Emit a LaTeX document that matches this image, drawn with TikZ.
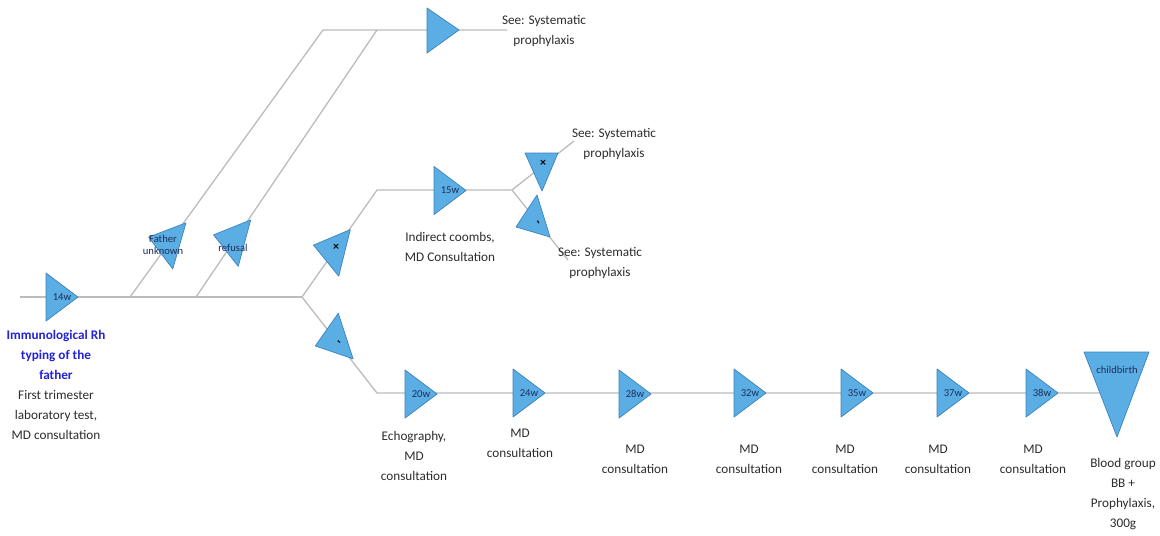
\documentclass[tikz,border=0pt]{standalone}
\usepackage{fontspec}
\setmainfont{Carlito}
\definecolor{tfill}{RGB}{91,174,228}
\definecolor{tedge}{RGB}{60,130,190}
\definecolor{lgray}{RGB}{188,188,188}
\definecolor{txt}{RGB}{45,45,45}
\definecolor{navy}{RGB}{30,45,90}
\definecolor{rhblue}{RGB}{35,35,215}
\tikzset{
 conn/.style={draw=lgray, line width=0.65pt},
 tri/.style={fill=tfill, draw=tedge, line width=0.35pt, line join=round},
 tlab/.style={font=\fontsize{5.3}{6.2}\selectfont, text=navy, inner sep=0, align=center},
 lab/.style={font=\fontsize{6.6}{10}\selectfont, text=txt, align=center, inner sep=0},
 signmark/.style={font=\fontsize{6}{6}\selectfont\bfseries, text=black, inner sep=0},
}
\newcommand{\mytri}[5]{%
 \begin{scope}[shift={(#2,#3)}, rotate=#4]
 \path[tri] (-16,-24) -- (16,0) -- (-16,24) -- cycle;
 \end{scope}
 \node[tlab] (#1) at (#2,#3) {#5};
}
\begin{document}
\begin{tikzpicture}[x=0.5pt,y=-0.5pt]
\fill[white] (0,0) rectangle (1160,535);
\useasboundingbox (0,0) rectangle (1160,535);
% connector points
\coordinate (s) at (20,297);
\coordinate (b1) at (130,297);
\coordinate (b2) at (196,297);
\coordinate (b3) at (302,297);
\coordinate (c1) at (323,30);
\coordinate (c2) at (377,30);
\coordinate (e1) at (507,30);
\coordinate (u1) at (377,190);
\coordinate (j15) at (512,190);
\coordinate (up) at (574,141);
\coordinate (dn) at (568,260);
\coordinate (l1) at (377,393);
\coordinate (lend) at (1100,393);
% connectors
\draw[conn] (s) -- (b3);
\draw[conn] (b1) -- (c1) -- (e1);
\draw[conn] (b2) -- (c2);
\draw[conn] (b3) -- (u1) -- (j15);
\draw[conn] (b3) -- (l1) -- (lend);
\draw[conn] (j15) -- (up);
\draw[conn] (j15) -- (dn);
% triangles
\mytri{t14}{62}{297}{0}{14w}
\path[tri] (427,8) -- (459,30) -- (427,53) -- cycle;
\node[tlab] (ttop) at (441,30) {};
\mytri{t15}{450}{190.5}{0}{15w}
\mytri{tfu}{164}{241.5}{164}{}
\node[tlab] (fu) at (163,245) {Father\\unknown};
\mytri{tref}{229}{239}{165}{}
\node[tlab] (ref) at (233,248) {refusal};
\mytri{tpos}{329}{249}{166}{}
\node[signmark] (pos) at (336,247) {×};
\mytri{tneg}{330.5}{341}{198}{}
\node[signmark, rotate=-40] (neg) at (338,343) {-};
\path[tri] (525,153) -- (558,153) -- (542,191) -- cycle;
\node[signmark] (pos2) at (543,163) {×};
\path[tri] (537,195) -- (516,227) -- (550,237) -- cycle;
\node[signmark, rotate=-60] (neg2) at (537,223) {-};
\mytri{t20}{421}{394}{0}{20w}
\mytri{t24}{529}{393}{0}{24w}
\mytri{t28}{635}{394}{0}{28w}
\mytri{t32}{750}{393}{0}{32w}
\mytri{t35}{857}{393}{0}{35w}
\mytri{t37}{953}{393}{0}{37w}
\mytri{t38}{1042}{393}{0}{38w}
\path[tri] (1084,352) -- (1149,352) -- (1117,437) -- cycle;
\node[tlab] (birth) at (1117,370) {childbirth};
% labels
\node[lab, text=rhblue, font=\fontsize{6.6}{10}\selectfont\bfseries] (rh) at (56,355) {Immunological Rh\\typing of the\\father};
\node[lab] (first) at (56,415) {First trimester\\laboratory test,\\MD consultation};
\node[lab] (see1) at (544,31) {See: Systematic\\prophylaxis};
\node[lab] (see2) at (614,144) {See: Systematic\\prophylaxis};
\node[lab] (see3) at (600,263) {See: Systematic\\prophylaxis};
\node[lab] (coombs) at (450,247) {Indirect coombs,\\MD Consultation};
\node[lab] (l20) at (414,456) {Echography,\\MD\\consultation};
\node[lab] (l24) at (520,443) {MD\\consultation};
\node[lab] (l28) at (635,459) {MD\\consultation};
\node[lab] (l32) at (749,459) {MD\\consultation};
\node[lab] (l35) at (845,459) {MD\\consultation};
\node[lab] (l37) at (938,459) {MD\\consultation};
\node[lab] (l38) at (1033,459) {MD\\consultation};
\node[lab] (lbirth) at (1123,494) {Blood group\\BB +\\Prophylaxis,\\300g};
\end{tikzpicture}
\end{document}
